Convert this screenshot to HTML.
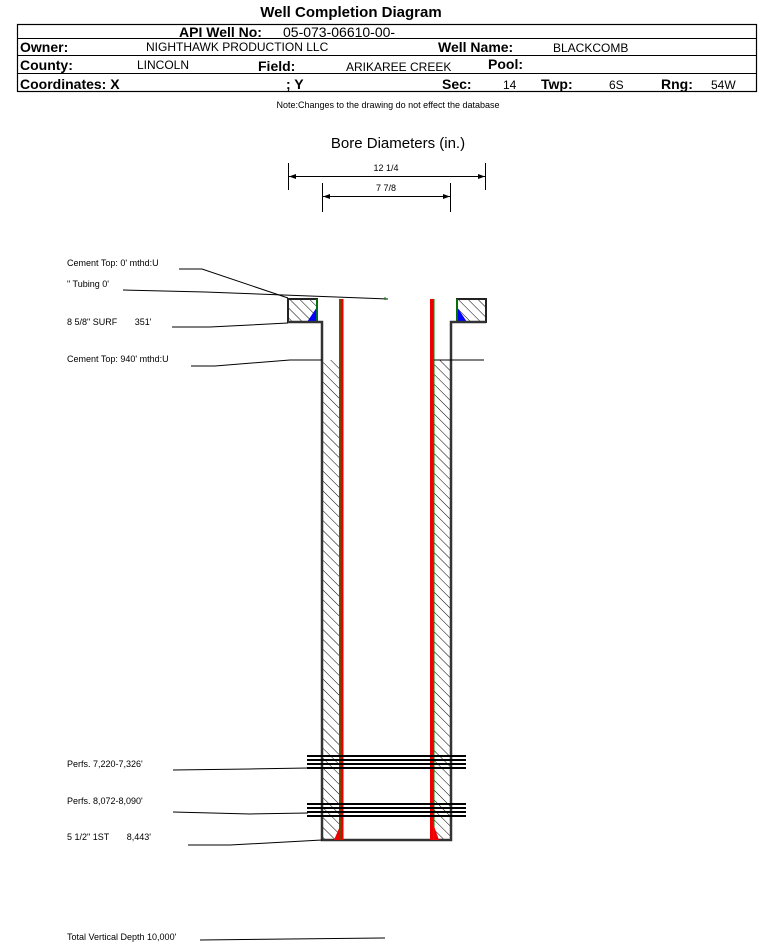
<!DOCTYPE html>
<html><head><meta charset="utf-8"><style>
html,body{margin:0;padding:0;background:#fff}
svg{display:block}
text{font-family:"Liberation Sans",Arial,sans-serif}
</style></head><body>
<svg width="759" height="943" viewBox="0 0 759 943" xmlns="http://www.w3.org/2000/svg">
<defs>
<pattern id="h" patternUnits="userSpaceOnUse" width="7" height="7" patternTransform="rotate(-45)">
<rect width="7" height="7" fill="#fff"/><line x1="0" y1="0" x2="0" y2="7" stroke="#000" stroke-width="1"/>
</pattern>
</defs>
<text x="351" y="17" font-size="15" font-weight="bold" text-anchor="middle">Well Completion Diagram</text>
<rect x="17.5" y="24.5" width="739" height="67" fill="none" stroke="#000" stroke-width="1.2"/>
<line x1="17" y1="38.5" x2="757" y2="38.5" stroke="#000"/>
<line x1="17" y1="55.5" x2="757" y2="55.5" stroke="#000"/>
<line x1="17" y1="73.5" x2="757" y2="73.5" stroke="#000"/>
<g font-size="14" font-weight="bold">
<text x="179" y="37">API Well No:</text>
<text x="20" y="52">Owner:</text>
<text x="438" y="52">Well Name:</text>
<text x="20" y="70">County:</text>
<text x="258" y="71">Field:</text>
<text x="488" y="69">Pool:</text>
<text x="20" y="89">Coordinates: X</text>
<text x="286" y="89">; Y</text>
<text x="442" y="89">Sec:</text>
<text x="541" y="89">Twp:</text>
<text x="661" y="89">Rng:</text>
</g>
<g font-size="12">
<text x="283" y="37" font-size="14">05-073-06610-00-</text>
<text x="146" y="51">NIGHTHAWK PRODUCTION LLC</text>
<text x="553" y="52">BLACKCOMB</text>
<text x="137" y="69">LINCOLN</text>
<text x="346" y="71">ARIKAREE CREEK</text>
<text x="503" y="89">14</text>
<text x="609" y="89">6S</text>
<text x="711" y="89">54W</text>
</g>
<text x="388" y="108" font-size="9" text-anchor="middle">Note:Changes to the drawing do not effect the database</text>
<text x="398" y="148" font-size="15" text-anchor="middle">Bore Diameters (in.)</text>
<g stroke="#000" stroke-width="1">
<line x1="288.5" y1="163" x2="288.5" y2="190"/><line x1="485.5" y1="163" x2="485.5" y2="190"/>
<line x1="289" y1="176.5" x2="485" y2="176.5"/>
<line x1="322.5" y1="183" x2="322.5" y2="212"/><line x1="450.5" y1="183" x2="450.5" y2="212"/>
<line x1="323" y1="196.5" x2="450" y2="196.5"/>
</g>
<polygon points="289,176.5 296,174 296,179" fill="#000"/><polygon points="485,176.5 478,174 478,179" fill="#000"/>
<polygon points="323,196.5 330,194 330,199" fill="#000"/><polygon points="450,196.5 443,194 443,199" fill="#000"/>
<text x="386" y="171" font-size="9" text-anchor="middle">12 1/4</text>
<text x="386" y="191" font-size="9" text-anchor="middle">7 7/8</text>
<rect x="288" y="299" width="29" height="23" fill="url(#h)" stroke="#222" stroke-width="2"/>
<polygon points="317,307 317,322 307,322" fill="#00f"/>
<line x1="317" y1="299" x2="317" y2="322" stroke="#080" stroke-width="1.5"/>
<rect x="457" y="299" width="29" height="23" fill="url(#h)" stroke="#222" stroke-width="2"/>
<polygon points="457,307 457,322 467,322" fill="#00f"/>
<line x1="457" y1="299" x2="457" y2="322" stroke="#080" stroke-width="1.5"/>
<rect x="322" y="360" width="18" height="480" fill="url(#h)"/>
<rect x="434" y="360" width="17" height="480" fill="url(#h)"/>
<polyline points="288,322 322,322 322,840 451,840 451,322 486,322" fill="none" stroke="#333" stroke-width="2.5"/>
<rect x="339" y="299" width="1.5" height="541" fill="#080"/>
<rect x="340.5" y="299" width="3" height="541" fill="#e00"/>
<rect x="430" y="299" width="3" height="541" fill="#e00"/>
<rect x="433" y="299" width="1.5" height="541" fill="#080"/>
<polygon points="334,840 340,826 340,840" fill="#e00"/>
<polygon points="439,840 434,826 434,840" fill="#e00"/>
<g stroke="#000" stroke-width="2">
<line x1="307" y1="756" x2="466" y2="756"/><line x1="307" y1="760" x2="466" y2="760"/>
<line x1="307" y1="764" x2="466" y2="764"/><line x1="307" y1="768" x2="466" y2="768"/>
<line x1="307" y1="804" x2="466" y2="804"/><line x1="307" y1="808" x2="466" y2="808"/>
<line x1="307" y1="812" x2="466" y2="812"/><line x1="307" y1="816" x2="466" y2="816"/>
</g>
<g font-size="9">
<text x="67" y="266">Cement Top: 0' mthd:U</text>
<text x="67" y="287">" Tubing 0'</text>
<text x="67" y="325">8 5/8" SURF&#160;&#160;&#160;&#160;&#160;&#160;&#160;351'</text>
<text x="67" y="362">Cement Top: 940' mthd:U</text>
<text x="67" y="767">Perfs. 7,220-7,326'</text>
<text x="67" y="804">Perfs. 8,072-8,090'</text>
<text x="67" y="840">5 1/2" 1ST&#160;&#160;&#160;&#160;&#160;&#160;&#160;8,443'</text>
<text x="67" y="940">Total Vertical Depth 10,000'</text>
</g>
<g stroke="#000" stroke-width="1" fill="none">
<polyline points="179,269 202,269 288,298"/>
<polyline points="123,290 205,292 388,299"/>
<polyline points="172,327 210,327 288,323"/>
<polyline points="191,366 215,366 290,360 322,360"/>
<line x1="434" y1="360" x2="484" y2="360"/>
<polyline points="173,770 250,769 308,768"/>
<polyline points="173,812 250,814 308,813"/>
<polyline points="188,845 230,845 322,840"/>
<line x1="200" y1="940" x2="385" y2="938"/>
</g>
<line x1="385" y1="297" x2="385" y2="300" stroke="#080"/>
</svg>
</body></html>
